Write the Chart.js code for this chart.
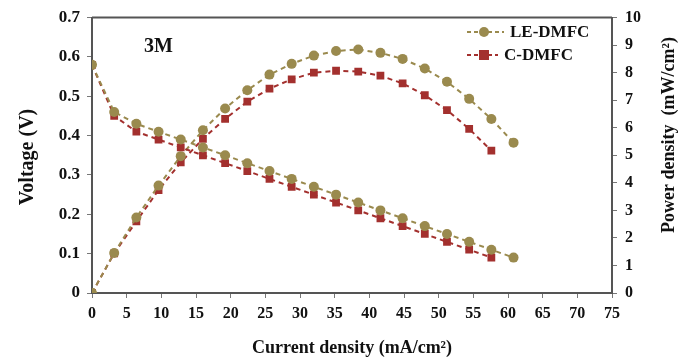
<!DOCTYPE html>
<html>
<head>
<meta charset="utf-8">
<script src="https://cdn.jsdelivr.net/npm/chart.js@4/dist/chart.umd.min.js"></script>
<style>
  html, body { margin: 0; padding: 0; background: #fff; }
  #wrap { width: 678px; height: 363px; }
</style>
</head>
<body>
<div id="wrap"><canvas id="myChart"></canvas></div>
<script>
// Current density (mA/cm2) for each series
const currentLE = [0, 3.2, 6.4, 9.6, 12.8, 16, 19.2, 22.4, 25.6, 28.8, 32, 35.2, 38.4, 41.6, 44.8, 48, 51.2, 54.4, 57.6, 60.8];
const currentC = [0, 3.2, 6.4, 9.6, 12.8, 16, 19.2, 22.4, 25.6, 28.8, 32, 35.2, 38.4, 41.6, 44.8, 48, 51.2, 54.4, 57.6];

// Voltage (V)
const voltageLE = [0.58, 0.46, 0.43, 0.41, 0.39, 0.37, 0.35, 0.33, 0.31, 0.29, 0.27, 0.25, 0.23, 0.21, 0.19, 0.17, 0.15, 0.13, 0.11, 0.09];
const voltageC = [0.58, 0.45, 0.41, 0.39, 0.37, 0.35, 0.33, 0.31, 0.29, 0.27, 0.25, 0.23, 0.21, 0.19, 0.17, 0.15, 0.13, 0.11, 0.09];

// Power density (mW/cm2)
const powerLE = [0, 1.45, 2.74, 3.9, 4.97, 5.91, 6.7, 7.36, 7.93, 8.32, 8.62, 8.79, 8.84, 8.72, 8.5, 8.15, 7.67, 7.05, 6.32, 5.46];
const powerC = [0, 1.44, 2.6, 3.74, 4.74, 5.6, 6.32, 6.95, 7.42, 7.76, 8.0, 8.07, 8.04, 7.89, 7.61, 7.18, 6.64, 5.96, 5.17];

const xTicks = [0, 75, 5];
const voltTicks = [0, 0.7, 0.1];
const powerTicks = [0, 10, 1];

const seriesNames = ['LE-DMFC', 'C-DMFC'];
const colorLE = '#9a8a4e';
const colorC = '#a3302e';

const serif = '"Liberation Serif", "DejaVu Serif", serif';

function pts(xs, ys) {
    return xs.map((x, i) => ({ x: x, y: ys[i] }));
}

function series(label, xs, ys, axis, color, shape) {
    return {
        label: label,
        data: pts(xs, ys),
        yAxisID: axis,
        borderColor: color,
        backgroundColor: color,
        borderWidth: 2,
        borderDash: [5, 4],
        pointStyle: shape,
        pointRadius: shape === 'rect' ? 5.5 : 5,
        pointBorderWidth: 0,
        showLine: true,
        tension: 0
    };
}

// vertical text, reading bottom to top
function drawVertical(ctx, text, x, y, font) {
    ctx.save();
    ctx.translate(x, y);
    ctx.rotate(-Math.PI / 2);
    ctx.font = font;
    ctx.textAlign = 'center';
    ctx.textBaseline = 'middle';
    ctx.fillText(text, 0, 0);
    ctx.restore();
}

// draws the top frame line, axis titles, the legend and the "3M" label
const decorations = {
    id: 'decorations',
    afterDraw(chart) {
        const ctx = chart.ctx;
        const a = chart.chartArea;
        ctx.save();
        ctx.strokeStyle = '#555';
        ctx.lineWidth = 2;
        ctx.beginPath();
        ctx.moveTo(a.left, a.top);
        ctx.lineTo(a.right, a.top);
        ctx.stroke();

        ctx.fillStyle = '#111';
        drawVertical(ctx, 'Voltage (V)', 28, 157, 'bold 20px ' + serif);
        drawVertical(ctx, 'Power density  (mW/cm²)', 669, 135, 'bold 18px ' + serif);

        ctx.font = 'bold 20px ' + serif;
        ctx.textBaseline = 'middle';
        ctx.textAlign = 'left';
        ctx.fillText('3M', 144, 47);

        const items = [
            { name: seriesNames[0], color: colorLE, shape: 'circle', y: 32, tx: 510 },
            { name: seriesNames[1], color: colorC, shape: 'rect', y: 55, tx: 504 }
        ];
        items.forEach(it => {
            ctx.strokeStyle = it.color;
            ctx.fillStyle = it.color;
            ctx.lineWidth = 2;
            ctx.setLineDash([4, 3]);
            ctx.beginPath();
            ctx.moveTo(467, it.y);
            ctx.lineTo(it.tx - 6, it.y);
            ctx.stroke();
            ctx.setLineDash([]);
            if (it.shape === 'circle') {
                ctx.beginPath();
                ctx.arc(484, it.y, 5, 0, Math.PI * 2);
                ctx.fill();
            } else {
                ctx.fillRect(479, it.y - 5, 10, 10);
            }
            ctx.fillStyle = '#111';
            ctx.font = 'bold 17px ' + serif;
            ctx.fillText(it.name, it.tx, it.y + 1);
        });
        ctx.restore();
    }
};

const xTickFont = { family: serif, size: 16, weight: 'bold' };

function axisGrid() {
    return { display: true, drawOnChartArea: false, drawTicks: true, tickLength: 5, color: '#777' };
}

new Chart(document.getElementById('myChart'), {
    type: 'scatter',
    data: {
        datasets: [
            series(seriesNames[0], currentLE, voltageLE, 'y', colorLE, 'circle'),
            series(seriesNames[1], currentC, voltageC, 'y', colorC, 'rect'),
            series(seriesNames[0], currentLE, powerLE, 'y2', colorLE, 'circle'),
            series(seriesNames[1], currentC, powerC, 'y2', colorC, 'rect')
        ]
    },
    options: {
        responsive: true,
        maintainAspectRatio: false,
        animation: false,
        layout: { padding: { top: 15, left: 0, right: 0, bottom: 0 } },
        plugins: {
            legend: { display: false },
            tooltip: { enabled: false }
        },
        scales: {
            x: {
                type: 'linear',
                min: xTicks[0], max: xTicks[1],
                ticks: { stepSize: xTicks[2], color: '#111', font: xTickFont, padding: 6, maxRotation: 0 },
                grid: axisGrid(),
                border: { display: true, color: '#555', width: 2 },
                title: { display: true, text: 'Current density (mA/cm²)', color: '#111', font: { family: serif, size: 18, weight: 'bold' }, padding: { top: 8 } },
                afterFit(scale) { scale.height = 70; }
            },
            y: {
                position: 'left',
                min: voltTicks[0], max: voltTicks[1],
                ticks: { stepSize: voltTicks[2], color: '#111', font: { family: serif, size: 17, weight: 'bold' }, padding: 7,
                    callback: v => v === 0 ? '0' : v.toFixed(1) },
                grid: axisGrid(),
                border: { display: true, color: '#555', width: 2 },
                afterFit(scale) { scale.width = 92; }
            },
            y2: {
                position: 'right',
                min: powerTicks[0], max: powerTicks[1],
                ticks: { stepSize: powerTicks[2], color: '#111', font: { family: serif, size: 16, weight: 'bold' }, padding: 8 },
                grid: axisGrid(),
                border: { display: true, color: '#555', width: 2 },
                afterFit(scale) { scale.width = 66; }
            }
        }
    },
    plugins: [decorations]
});
</script>
</body>
</html>
